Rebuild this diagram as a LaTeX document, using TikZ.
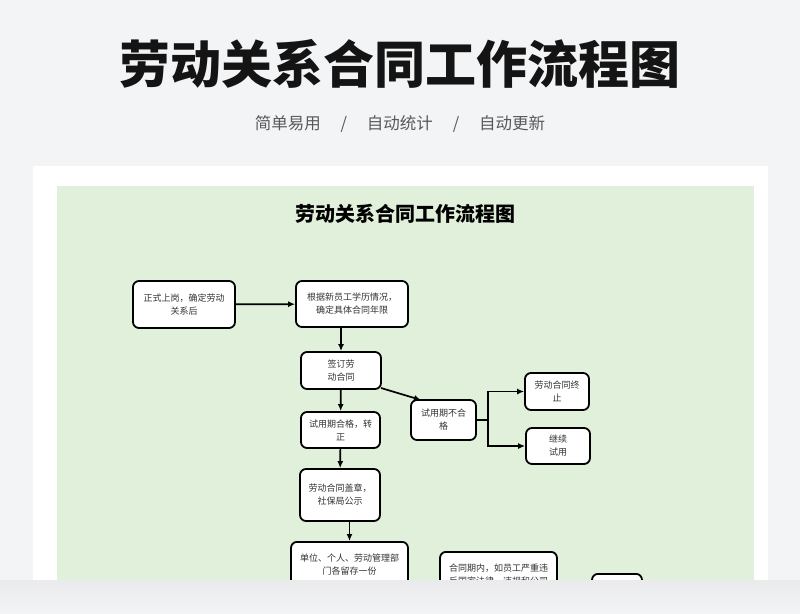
\documentclass[tikz,border=0pt]{standalone}
\usepackage{fontspec}
\setmainfont{Noto Sans CJK SC}
\usetikzlibrary{arrows.meta}
\definecolor{panel}{HTML}{E0F0DA}
\definecolor{bgc}{HTML}{F3F4F6}
\definecolor{txt}{HTML}{333333}
\tikzset{
 box/.style={draw=black,line width=1.8pt,rounded corners=6pt,fill=white,align=center,font=\fontsize{9}{13}\selectfont,text=txt,inner sep=0pt},
 arr/.style={-{Latex[length=7pt,width=6pt]},line width=1.7pt}
}
\begin{document}
\begin{tikzpicture}[x=1pt,y=-1pt]
\useasboundingbox (0,0) rectangle (800,613);
\fill[bgc] (0,0) rectangle (800,613);
\node[font=\fontsize{51}{55}\selectfont\bfseries,text=black!92] (t) at (400,64) {劳动关系合同工作流程图};
\node[font=\fontsize{16.5}{19}\selectfont,text=black!65] (s) at (400,124) {简单易用\hspace{1.2em}/\hspace{1.2em}自动统计\hspace{1.2em}/\hspace{1.2em}自动更新};
\fill[white] (33,166) rectangle (768,613);
\fill[panel] (57,186) rectangle (754,613);
\node[font=\fontsize{20}{24}\selectfont\bfseries] (it) at (405,214) {劳动关系合同工作流程图};
\begin{scope}
\clip (0,0) rectangle (800,580);
\node[box,minimum width=102,minimum height=47] (A) at (184,304.5) {正式上岗，确定劳动\\关系后};
\node[box,minimum width=112,minimum height=46] (B) at (352,304) {根据新员工学历情况，\\确定具体合同年限};
\node[box,minimum width=80,minimum height=37] (C) at (341,370.5) {签订劳\\动合同};
\node[box,minimum width=79,minimum height=36] (D) at (340.5,430) {试用期合格，转\\正};
\node[box,minimum width=65,minimum height=40] (E) at (443.5,420) {试用期不合\\格};
\node[box,minimum width=64,minimum height=37] (F) at (557,391.5) {劳动合同终\\止};
\node[box,minimum width=64,minimum height=36] (G) at (558,446) {继续\\试用};
\node[box,minimum width=80,minimum height=52] (H) at (340,495) {劳动合同盖章，\\社保局公示};
\node[box,minimum width=117,minimum height=70,anchor=north] (I) at (349.5,541) {单位、个人、劳动管理部\\门各留存一份\\ \\ };
\node[box,minimum width=117,minimum height=70,anchor=north] (J) at (498.5,551) {合同期内，如员工严重违\\反国家法律，违规和公司\\ \\ };
\node[box,minimum width=50,minimum height=40,anchor=north] (K) at (617,573) {};
\draw[arr] (A) -- (B);
\draw[arr] (B.south -| C.north) -- (C.north);
\draw[arr] (C) -- (D);
\coordinate (c1) at (381,388);
\coordinate (e1) at (421,400);
\draw[arr] (c1) -- (e1);
\draw[arr] (D) -- (H);
\draw[arr] (H.south -| I.north) -- (I.north);
\coordinate (m) at (488,420);
\draw[line width=1.7pt] (E.east) -- (m);
\draw[arr] (m) |- (F.west);
\draw[arr] (m) |- (G.west);
\end{scope}
\shade[top color=bgc!80!gray!60, bottom color=bgc] (0,580) rectangle (800,613);
\end{tikzpicture}
\end{document}
